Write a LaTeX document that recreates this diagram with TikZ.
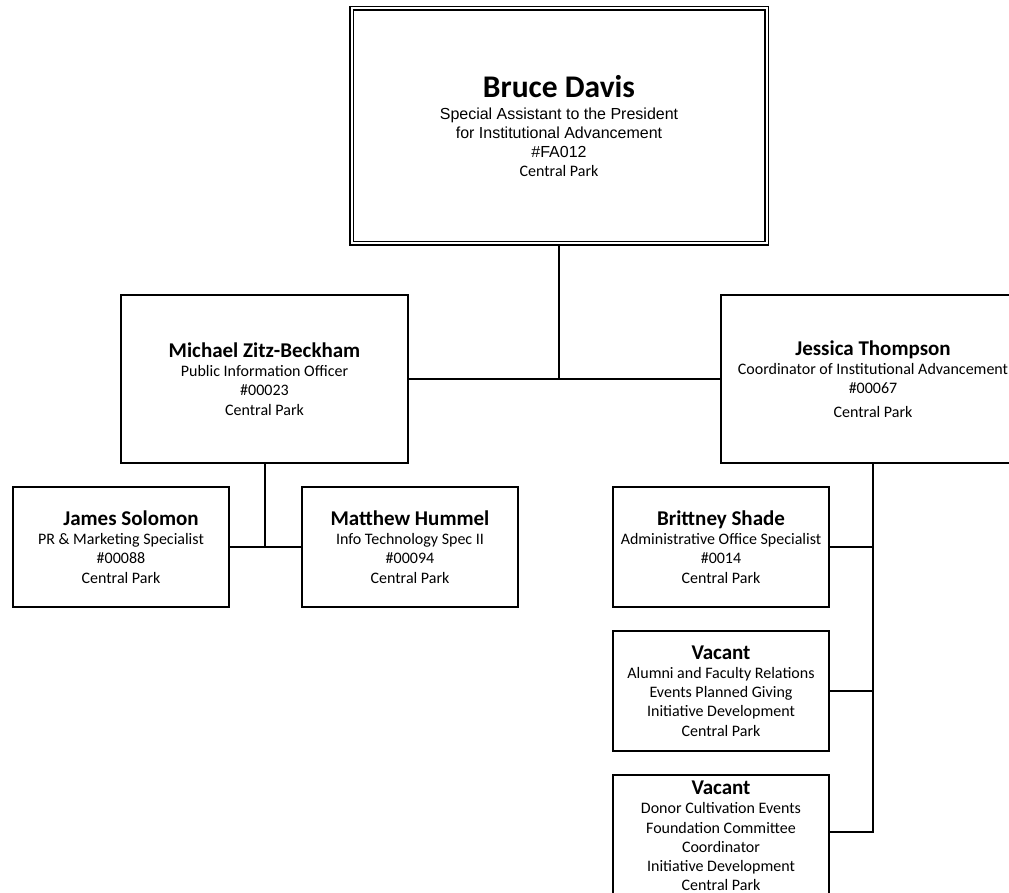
\documentclass[tikz,border=0pt]{standalone}
\usepackage{fontspec}
\setmainfont{Carlito}
\newfontfamily\arialf{Liberation Sans}
\newcommand\pname[1]{{\fontsize{21}{24}\selectfont\bfseries #1}}
\begin{document}
\begin{tikzpicture}[x=1pt,y=-1pt,
  box/.style={draw=black, line width=2pt, fill=white, rectangle, inner sep=0pt, align=center,
    font=\fontsize{16}{19.2}\selectfont},
  smallbox/.style={box, minimum width=216pt, minimum height=120pt},
  midbox/.style={box, minimum height=168pt},
  link/.style={draw=black, line width=2pt},
]
\clip (0,0) rectangle (1009,893);
\fill[white] (0,0) rectangle (1009,893);

\node[box, double, double distance=2pt, line width=1.5pt, minimum width=415pt, minimum height=235pt] (bruce) at (559,126)
  {{\fontsize{31.5}{34}\selectfont\bfseries Bruce Davis}\\[3pt]
   {\arialf\fontsize{16}{18.5}\selectfont Special Assistant to the President}\\
   {\arialf\fontsize{16}{18.5}\selectfont for Institutional Advancement}\\
   {\arialf\fontsize{16}{18.5}\selectfont \#FA012}\\
   Central Park};

\node[midbox, minimum width=287pt] (michael) at (264.5,379)
  {\pname{Michael Zitz-Beckham}\\ Public Information Officer\\ \#00023\\ Central Park};

\node[midbox, minimum width=304pt] (jessica) at (873,379)
  {\pname{Jessica Thompson}\\ Coordinator of Institutional Advancement\\ \#00067\\[4pt] Central Park};

\node[smallbox] (james) at (121,547)
  {\pname{\hspace*{20pt}James Solomon}\\ PR \& Marketing Specialist\\ \#00088\\ Central Park};

\node[smallbox] (matthew) at (410,547)
  {\pname{Matthew Hummel}\\ Info Technology Spec II\\ \#00094\\ Central Park};

\node[smallbox] (brittney) at (721,547)
  {\pname{Brittney Shade}\\ Administrative Office Specialist\\ \#0014\\ Central Park};

\node[smallbox] (vacant1) at (721,691)
  {\pname{Vacant}\\ Alumni and Faculty Relations\\ Events Planned Giving\\ Initiative Development\\ Central Park};

\node[box, minimum width=216pt, minimum height=122pt] (vacant2) at (721,836)
  {\pname{Vacant}\\ Donor Cultivation Events\\ Foundation Committee\\ Coordinator\\ Initiative Development\\ Central Park};

\coordinate (v2branch) at ([yshift=-58pt]vacant2.north east);

\draw[link] (bruce.south) -- (bruce.south |- michael.east);
\draw[link] (michael.east) -- (jessica.west);
\draw[link] (michael.south) -- (michael.south |- james.east);
\draw[link] (james.east) -- (matthew.west);
\draw[link] (jessica.south) -- (jessica.south |- v2branch) -- (v2branch);
\draw[link] (brittney.east) -- (brittney.east -| jessica.south);
\draw[link] (vacant1.east) -- (vacant1.east -| jessica.south);
\end{tikzpicture}
\end{document}
